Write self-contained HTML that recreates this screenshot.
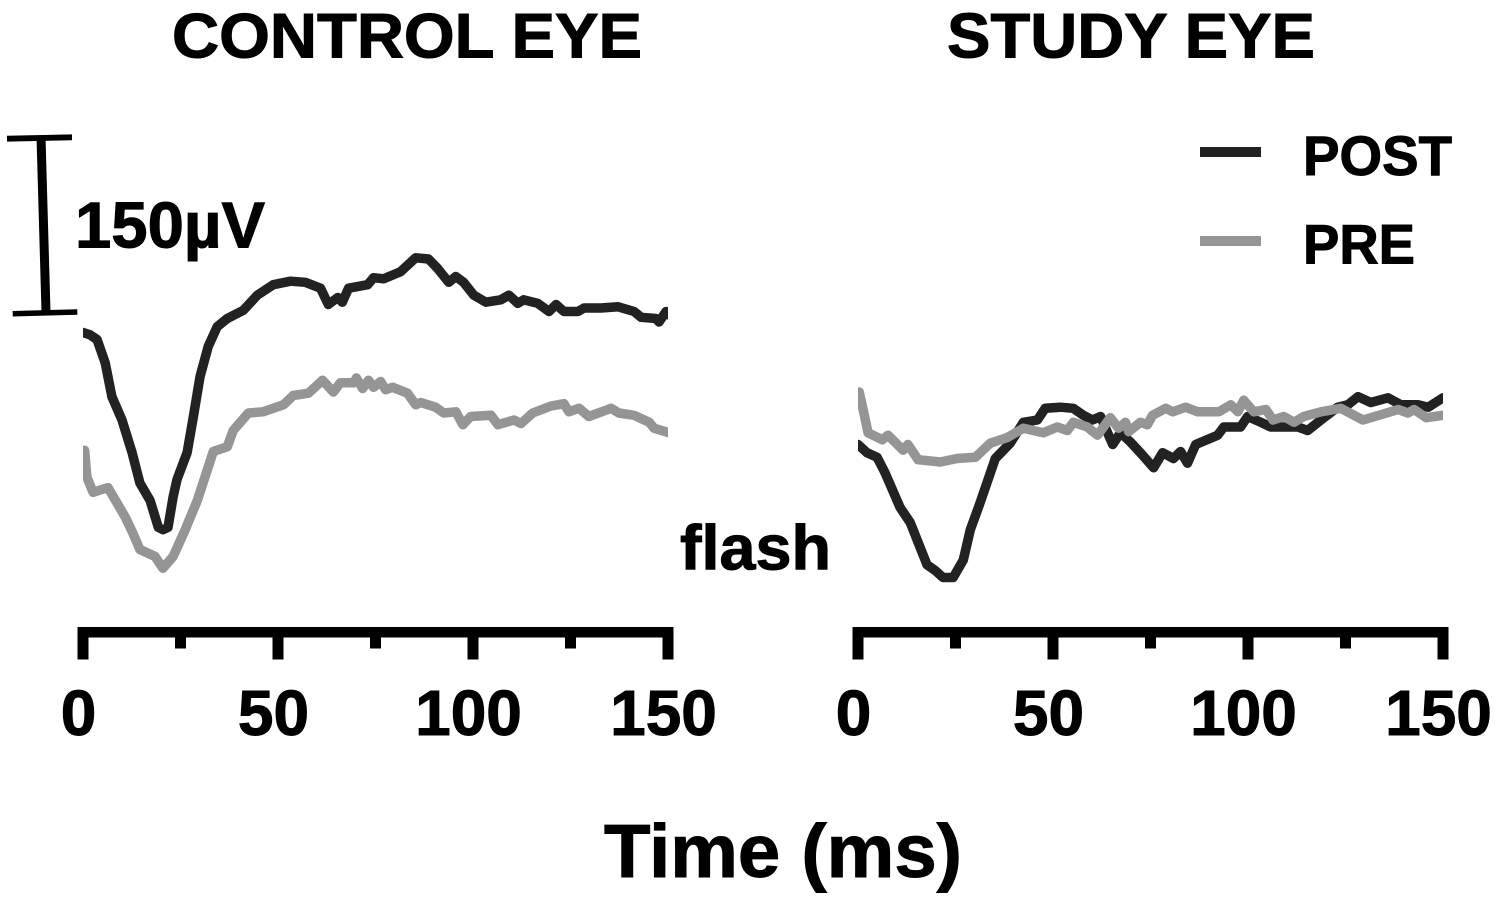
<!DOCTYPE html>
<html lang="en">
<head>
<meta charset="utf-8">
<title>Control eye and study eye flash responses</title>
<style>
html,body{margin:0;padding:0;background:#fff;}
svg{display:block;}
text{font-family:"Liberation Sans",Arial,sans-serif;font-weight:700;fill:#000;stroke:#000;stroke-width:1px;}
.trace{fill:none;stroke-width:9.5;stroke-linejoin:round;stroke-linecap:round;}
</style>
</head>
<body>
<svg id="chart" width="1500" height="903" viewBox="0 0 1500 903" xmlns="http://www.w3.org/2000/svg">
  <defs>
    <clipPath id="clip-control"><rect x="83" y="100" width="585" height="520"/></clipPath>
    <clipPath id="clip-study"><rect x="858" y="100" width="585" height="520"/></clipPath>
  </defs>
  <rect width="1500" height="903" fill="#fff"/>
  <text x="172" y="57.5" font-size="63" textLength="470" lengthAdjust="spacingAndGlyphs">CONTROL EYE</text>
  <text x="947" y="57.5" font-size="63" textLength="368" lengthAdjust="spacingAndGlyphs">STUDY EYE</text>
  <g stroke="#000" fill="none">
    <line x1="41" y1="137" x2="46" y2="312" stroke-width="9"/>
    <line x1="7" y1="138.7" x2="72" y2="137.3" stroke-width="5.8"/>
    <line x1="12.7" y1="313.7" x2="77.3" y2="312" stroke-width="5.5"/>
  </g>
  <text x="75" y="247.5" font-size="65" textLength="190" lengthAdjust="spacingAndGlyphs">150µV</text>
  <text x="680" y="569.5" font-size="63" textLength="151" lengthAdjust="spacingAndGlyphs">flash</text>
  <g>
    <line x1="1200" y1="152" x2="1261" y2="152" stroke="#222" stroke-width="10"/>
    <text x="1303" y="175" font-size="56" textLength="149" lengthAdjust="spacingAndGlyphs">POST</text>
    <line x1="1200" y1="241" x2="1261" y2="241" stroke="#959595" stroke-width="10"/>
    <text x="1303" y="263.5" font-size="56" textLength="112" lengthAdjust="spacingAndGlyphs">PRE</text>
  </g>
  <text x="604" y="877" font-size="75" textLength="358" lengthAdjust="spacingAndGlyphs">Time (ms)</text>
</svg>
<script>
var majorTicks = [0, 50, 100, 150];
var minorTicks = [25, 75, 125];

var controlPostTime = [0,1.8,3.6,5.7,7.4,10,12.6,14.6,17.2,19.3,20.5,21.8,23.1,24.1,26.7,28.3,30,32.1,34.4,37,41.1,44.7,48.8,53.2,57,60.9,62.9,65.3,66.5,68.1,73,74.5,77.1,81.4,85.3,88.6,90.9,93.8,95.6,97.6,100.2,103.3,107.1,109.2,111.5,113,116.6,119.5,121.3,123.3,126.9,128.5,132.8,137.2,141.3,143.1,146.9,147.7,149.5,150.3];
var controlPostValues = [255,253,249,229,200,180,152,126,111,88,86,88,114,129,152,183,217,243,260,267,274,287,296,299,298,293,279,285,281,293,296,302,301,307,319,318,310,298,303,298,287,281,283,287,280,283,280,273,279,273,273,276,276,277,273,268,267,264,273,270];

var controlPreTime = [0.4,1,2.6,4.4,6.4,10.8,12.8,14.6,18.5,20.5,23.1,26.2,29.3,33.4,37,38.5,42.4,46.2,51.4,53.9,57.8,61.4,64.2,66,69.4,70.1,71.7,73.2,74.5,76.3,77.6,79.4,83.2,85.3,86.6,90.4,92.5,95.6,97.4,99.4,104.6,106.4,110.5,112.3,115.3,120,123.3,124.6,127.2,129.7,135.4,137.4,141.3,145.2,146.4,150.3];
var controlPreValues = [154,131,118,120,122,97,83,69,63,53,63,86,111,153,157,171,186,187,193,201,203,214,204,212,212,216,207,214,208,213,206,208,203,193,195,191,186,187,176,183,184,176,180,177,186,192,194,187,190,183,190,186,184,178,173,169];

var studyPostTime = [0,2.3,4.9,6.9,10.8,13.4,17.7,19.8,21.8,24.4,27,28.8,31.3,35.2,39,42.4,46,48,51.9,55.2,57.8,60.1,62.2,64,65.3,67.3,69.9,72.4,75.8,78.1,80.9,82.7,84.5,86.6,92.2,93.8,98.1,99.9,103.3,105.8,109.2,112.8,115.3,118.7,123,125.6,128.2,131.5,135.9,139.2,143.6,146.2,150];
var studyPostValues = [159,152,148,135,105,92,56,51,45,45,60,86,109,147,160,178,180,190,191,190,184,180,183,169,159,169,161,152,139,152,147,153,143,159,167,174,174,183,178,174,174,174,171,180,191,193,200,195,199,193,193,191,199];

var studyPreTime = [0.3,1.3,2.6,6.2,7.7,11.6,12.8,15.4,21.1,25.4,30.1,33.9,38.3,42.4,47.5,51.1,53.7,55.2,58.8,61.4,64.7,66.8,68.6,69.4,72.4,74.2,75.5,78.9,80.7,84,87.1,92.5,95.6,97.4,98.9,101.5,104.6,106.4,109.2,111.8,114.3,118.7,123.8,129.5,138.5,141,142.6,145.7,150];
var studyPreValues = [204,189,169,163,167,154,159,146,144,147,148,160,165,173,169,174,171,178,174,167,182,173,178,170,178,176,184,190,187,191,187,187,193,187,197,187,189,180,183,178,183,187,190,180,189,186,189,182,184];

var svg = document.getElementById('chart');
var NS = 'http://www.w3.org/2000/svg';

function yScale(v) { return 630 - v * 1.1667; }
function xScaleControl(t) { return 83 + t * 3.9; }
function xScaleStudy(t) { return 858 + t * 3.9; }

function drawTrace(xScale, times, values, color, clipId, name) {
  var d = '';
  for (var i = 0; i < times.length; i++) {
    d += (i ? 'L' : 'M') + xScale(times[i]).toFixed(1) + ' ' + yScale(values[i]).toFixed(1);
  }
  var p = document.createElementNS(NS, 'path');
  p.setAttribute('d', d);
  p.setAttribute('class', 'trace');
  p.setAttribute('stroke', color);
  p.setAttribute('clip-path', 'url(#' + clipId + ')');
  
  
  svg.appendChild(p);
}

function drawAxis(xScale, panel) {
  var bar = document.createElementNS(NS, 'rect');
  bar.setAttribute('x', xScale(0) - 5.5);
  bar.setAttribute('y', 627);
  bar.setAttribute('width', xScale(150) - xScale(0) + 11);
  bar.setAttribute('height', 10.5);
  bar.setAttribute('fill', '#000');
  
  
  svg.appendChild(bar);

  majorTicks.forEach(function (t) {
    var tick = document.createElementNS(NS, 'rect');
    tick.setAttribute('x', xScale(t) - 5.5);
    tick.setAttribute('y', 627);
    tick.setAttribute('width', 11);
    tick.setAttribute('height', 32.5);
    tick.setAttribute('fill', '#000');
    
    
    svg.appendChild(tick);

    var label = document.createElementNS(NS, 'text');
    label.setAttribute('x', xScale(t) - 4.5);
    label.setAttribute('y', 735);
    label.setAttribute('font-size', 64);
    label.setAttribute('text-anchor', 'middle');
    
    
    label.textContent = String(t);
    svg.appendChild(label);
  });

  minorTicks.forEach(function (t) {
    var tick = document.createElementNS(NS, 'rect');
    tick.setAttribute('x', xScale(t) - 5.5);
    tick.setAttribute('y', 627);
    tick.setAttribute('width', 11);
    tick.setAttribute('height', 21.5);
    tick.setAttribute('fill', '#000');
    
    
    svg.appendChild(tick);
  });
}

drawAxis(xScaleControl, 'control');
drawAxis(xScaleStudy, 'study');
drawTrace(xScaleControl, controlPostTime, controlPostValues, '#222222', 'clip-control', 'control-post-trace');
drawTrace(xScaleControl, controlPreTime, controlPreValues, '#959595', 'clip-control', 'control-pre-trace');
drawTrace(xScaleStudy, studyPostTime, studyPostValues, '#222222', 'clip-study', 'study-post-trace');
drawTrace(xScaleStudy, studyPreTime, studyPreValues, '#959595', 'clip-study', 'study-pre-trace');
</script>
</body>
</html>
